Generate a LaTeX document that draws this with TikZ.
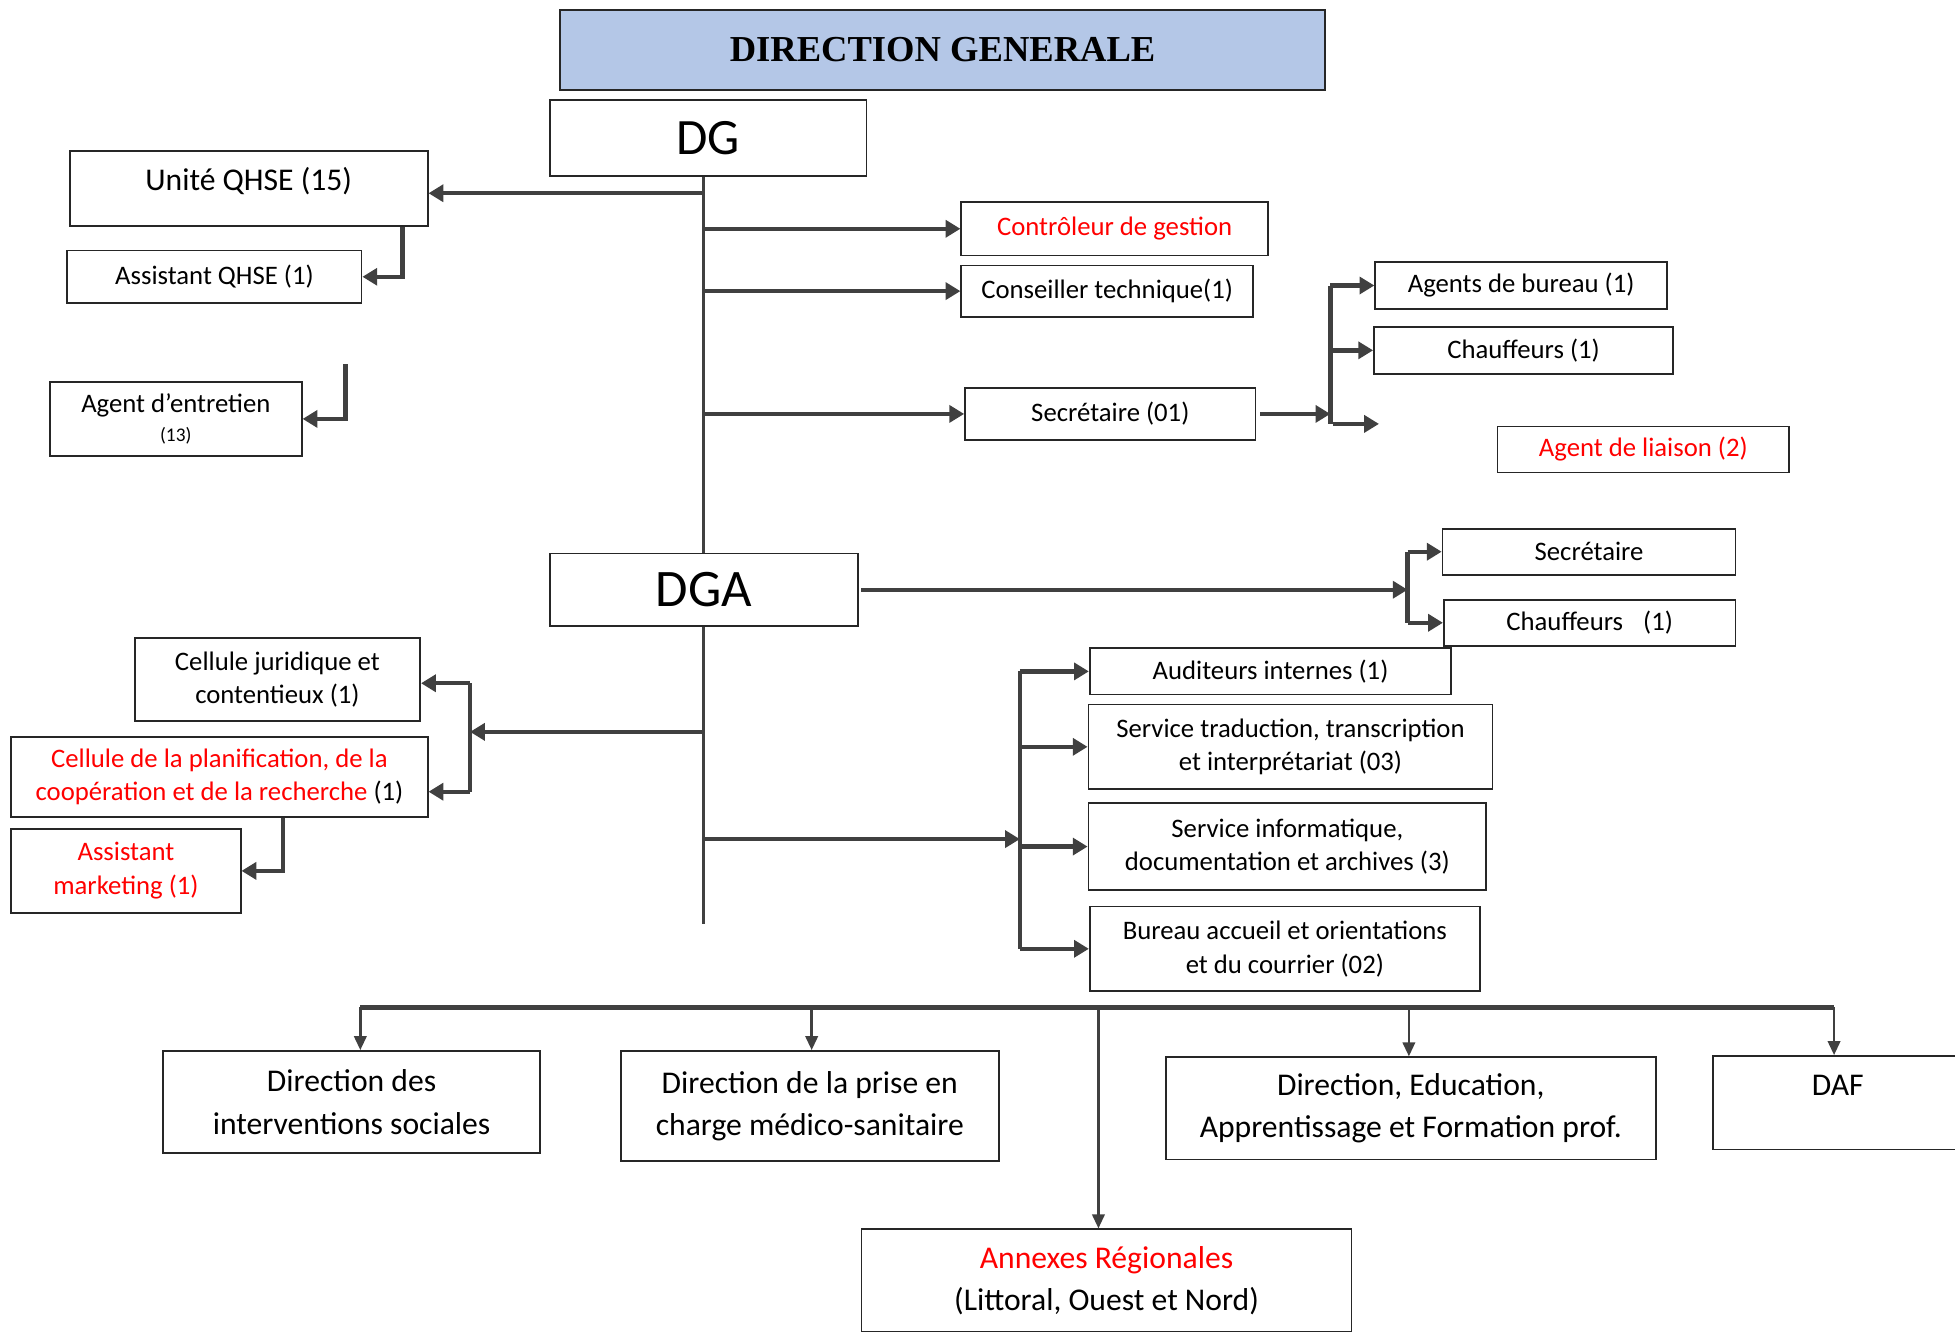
\documentclass[tikz,border=0pt]{standalone}
\usepackage{fontspec}
\setmainfont{Carlito}
\newfontfamily\titrefont{Liberation Serif}
\usepackage{tikz}
\usetikzlibrary{arrows.meta, calc}
\newlength\pxu
\setlength\pxu{0.012468cm}
\definecolor{trait}{HTML}{404040}
\definecolor{bleutitre}{RGB}{180,199,231}
\tikzset{
  box/.style={
    draw=black!85,
    line width=0.5pt,
    align=center,
    inner sep=1pt,
    font=\fontsize{7.6}{9.6}\selectfont
  },
  big box/.style={
    box,
    font=\fontsize{9}{12}\selectfont
  },
  chief box/.style={
    box,
    font=\fontsize{14.5}{16}\selectfont
  },
  title box/.style={
    draw=black!85,
    line width=0.6pt,
    fill=bleutitre,
    font=\titrefont\bfseries\fontsize{10.4}{12}\selectfont
  },
  link/.style={
    -{Triangle[length=4.2pt, width=4.8pt]},
    line width=1.25pt,
    color=trait
  },
  thin link/.style={
    -{Triangle[length=4pt, width=3.5pt]},
    line width=0.8pt,
    color=trait
  },
  bracket/.style={
    line width=1.25pt,
    color=trait
  },
  spine/.style={
    line width=0.8pt,
    color=trait
  },
  bus line/.style={
    line width=1.6pt,
    color=trait
  }
}

\begin{document}
\begin{tikzpicture}[x=\pxu, y=-\pxu]
  \useasboundingbox (0,0) rectangle (1568,1068);
  \clip (0,0) rectangle (1568,1068);

  %% ---- titre ----
  \node[title box, text depth=0pt, minimum width=614\pxu, minimum height=64\pxu] (titre) at (756,40) {DIRECTION GENERALE};

  %% ---- DG, DGA et l'axe central ----
  \node[chief box, minimum width=254\pxu, minimum height=61\pxu] (dg) at (568,110.5) {DG};
  \node[chief box, font=\fontsize{15}{16}\selectfont, minimum width=247\pxu, minimum height=58\pxu] (dga) at (564.5,473) {DGA};
  \coordinate (bas) at (566,741);
  \draw[spine] (dga.north |- dg.south) -- (dga.north);
  \draw[spine] (dga.south) -- (dga.south |- bas);

  %% ---- à gauche du DG ----
  \node[box, font=\fontsize{9}{11}\selectfont, text depth=5.5pt, minimum width=287\pxu, minimum height=60\pxu] (qhse) at (199.5,151) {Unité QHSE (15)};
  \node[box, minimum width=236\pxu, minimum height=42\pxu] (aqhse) at (172,222) {Assistant QHSE (1)};
  \node[box, minimum width=202\pxu, minimum height=59\pxu] (entretien) at (141,336) {Agent d’entretien\\[-1.5pt]{\fontsize{5.5}{6}\selectfont (13)}};
  \coordinate (j-qhse) at (565,155);
  \coordinate (j-ent) at (277,292);
  \draw[link] (j-qhse) -- (j-qhse -| qhse.east);
  \draw[link] ([xshift=-21\pxu]qhse.south east) |- (aqhse.east);
  \draw[link] (j-ent) |- (entretien.east);

  %% ---- à droite du DG ----
  \node[box, text=red, minimum width=246\pxu, minimum height=43\pxu] (ctrl) at (894,183.5) {Contrôleur de gestion};
  \node[box, minimum width=234\pxu, minimum height=41\pxu] (conseil) at (888,233.5) {Conseiller technique(1)};
  \node[box, minimum width=233\pxu, minimum height=42\pxu] (sec1) at (890.5,332) {Secrétaire (01)};
  \draw[link] (dga.north |- ctrl.west) -- (ctrl.west);
  \draw[link] (dga.north |- conseil.west) -- (conseil.west);
  \draw[link] (dga.north |- sec1.west) -- (sec1.west);

  % services rattachés au secrétariat
  \node[box, minimum width=234\pxu, minimum height=38\pxu] (bureau) at (1220,229) {Agents de bureau (1)};
  \node[box, minimum width=240\pxu, minimum height=38\pxu] (chauf1) at (1222,281) {Chauffeurs (1)};
  \node[box, text=red, minimum width=234\pxu, minimum height=37\pxu] (liaison) at (1318,360.5) {Agent de liaison (2)};
  \coordinate (b1) at (1067,332);
  \coordinate (b1-bas) at (1069,340);
  \coordinate (vide) at (1106,340);
  \draw[link] ([xshift=3\pxu]sec1.east) -- (b1);
  \draw[bracket] (b1 |- bureau.west) -- (b1 |- b1-bas);
  \draw[link] (b1 |- bureau.west) -- (bureau.west);
  \draw[link] (b1 |- chauf1.west) -- (chauf1.west);
  \draw[link] (b1-bas) -- (vide);

  %% ---- à droite du DGA ----
  \node[box, minimum width=235\pxu, minimum height=37\pxu] (sec2) at (1274.5,442.5) {Secrétaire};
  \node[box, minimum width=234\pxu, minimum height=37\pxu] (chauf2) at (1275,499.5) {Chauffeurs\hspace{4pt} (1)};
  \coordinate (b2) at (1129,473);
  \draw[link] ([xshift=2\pxu]dga.east) -- (b2);
  \draw[bracket] (b2 |- sec2.west) -- (b2 |- chauf2.west);
  \draw[link] (b2 |- sec2.west) -- (sec2.west);
  \draw[link] (b2 |- chauf2.west) -- (chauf2.west);

  %% ---- à gauche du DGA ----
  \node[box, minimum width=229\pxu, minimum height=66\pxu] (juri) at (222.5,545) {Cellule juridique et\\contentieux (1)};
  \node[box, minimum width=334\pxu, minimum height=64\pxu] (planif) at (176,623) {\textcolor{red}{Cellule de la planification, de la}\\\textcolor{red}{coopération et de la recherche} (1)};
  \node[box, text=red, minimum width=184\pxu, minimum height=67\pxu] (marketing) at (101,698.5) {Assistant\\marketing (1)};
  \coordinate (b3) at (377,587);
  \coordinate (b3-haut) at (377,548);
  \coordinate (b3-bas) at (377,635);
  \draw[link] (dga.south |- b3) -- (b3);
  \draw[bracket] (b3-haut) -- (b3-bas);
  \draw[link] (b3-haut) -- (b3-haut -| juri.east);
  \draw[link] (b3-bas) -- (b3-bas -| planif.east);
  \draw[link] ([xshift=51\pxu]planif.south) |- (marketing.east);

  %% ---- services sous le DGA ----
  \node[box, minimum width=290\pxu, minimum height=37\pxu] (audit) at (1019,538.5) {Auditeurs internes (1)};
  \node[box, minimum width=324\pxu, minimum height=68\pxu] (trad) at (1035,599) {Service traduction, transcription\\et interprétariat (03)};
  \node[box, minimum width=319\pxu, minimum height=70\pxu] (info) at (1032.5,679) {Service informatique,\\documentation et archives (3)};
  \node[box, minimum width=313\pxu, minimum height=68\pxu] (accueil) at (1030.5,761) {Bureau accueil et orientations\\et du courrier (02)};
  \coordinate (b4) at (818,673);
  \draw[link] (dga.south |- b4) -- (b4);
  \draw[bracket] (b4 |- audit.west) -- (b4 |- accueil.west);
  \draw[link] (b4 |- audit.west) -- (audit.west);
  \draw[link] (b4 |- trad.west) -- (trad.west);
  \draw[link] (b4 |- info.west) -- (info.west);
  \draw[link] (b4 |- accueil.west) -- (accueil.west);

  %% ---- directions ----
  \node[big box, minimum width=302\pxu, minimum height=82\pxu] (dis) at (282,884) {Direction des\\interventions sociales};
  \node[big box, minimum width=303\pxu, minimum height=88\pxu] (medico) at (649.5,887) {Direction de la prise en\\charge médico-sanitaire};
  \node[big box, minimum width=393\pxu, minimum height=82\pxu] (annexes) at (887.5,1027) {\textcolor{red}{Annexes Régionales}\\(Littoral, Ouest et Nord)};
  \node[big box, minimum width=393\pxu, minimum height=82\pxu] (educ) at (1131.5,889) {Direction, Education,\\Apprentissage et Formation prof.};
  \node[big box, text height=5.8pt, text depth=9.7pt, minimum width=200\pxu, minimum height=75\pxu] (daf) at (1474,884.5) {DAF};
  \coordinate (bus-g) at (289,808);
  \coordinate (bus-2) at (651,808);
  \coordinate (bus-3) at (881,808);
  \coordinate (bus-4) at (1130,808);
  \coordinate (bus-d) at (1471,808);
  \draw[bus line] (bus-g) -- (bus-d);
  \draw[thin link] (bus-g) -- (bus-g |- dis.north);
  \draw[thin link] (bus-2) -- (bus-2 |- medico.north);
  \draw[thin link] (bus-3) -- (bus-3 |- annexes.north);
  \draw[thin link] (bus-4) -- (bus-4 |- educ.north);
  \draw[thin link] (bus-d) -- (bus-d |- daf.north);

\end{tikzpicture}
\end{document}
